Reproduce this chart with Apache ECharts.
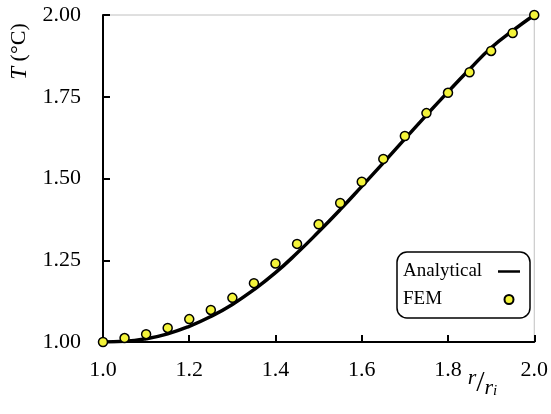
<!DOCTYPE html>
<html>
<head>
<meta charset="utf-8">
<script src="https://cdn.jsdelivr.net/npm/echarts@6/dist/echarts.min.js"></script>
<style>html,body{margin:0;padding:0;background:#fff}#c{width:551px;height:414px}</style>
</head>
<body>
<div id="c"></div>
<script>
// r/ri positions
const rValues = [1.00,1.05,1.10,1.15,1.20,1.25,1.30,1.35,1.40,1.45,1.50,1.55,1.60,1.65,1.70,1.75,1.80,1.85,1.90,1.95,2.00];
// Analytical solution T (°C)
const analyticalT = [1.000,1.002,1.010,1.025,1.048,1.078,1.115,1.160,1.212,1.272,1.337,1.405,1.476,1.548,1.621,1.694,1.765,1.834,1.900,1.952,2.000];
// FEM solution T (°C)
const femT = [1.000,1.012,1.024,1.043,1.070,1.098,1.135,1.180,1.240,1.300,1.360,1.425,1.490,1.560,1.630,1.700,1.762,1.825,1.890,1.945,2.000];
const xTicks = [1.0,1.2,1.4,1.6,1.8,2.0];
const yTicks = [1.00,1.25,1.50,1.75,2.00];

const serif = '"Liberation Serif", "DejaVu Serif", serif';
const chart = echarts.init(document.getElementById('c'));
chart.setOption({
  animation: false,
  backgroundColor: '#fff',
  grid: { left: 92, right: 14, top: 15, bottom: 72, show: true, borderColor: '#c0c0c0', borderWidth: 1 },
  legend: {
    orient: 'vertical', right: 21, top: 252, align: 'right',
    backgroundColor: '#fff', borderColor: '#000', borderWidth: 1.5, borderRadius: 10,
    padding: [10, 10, 9, 6], itemGap: 9, itemWidth: 22, itemHeight: 9,
    formatter: name => '{n|' + name + '}',
    textStyle: { fontFamily: serif, fontSize: 19, color: '#000',
      rich: { n: { fontFamily: serif, fontSize: 19, color: '#000', width: 90, align: 'left' } } },
    data: [
      { name: 'Analytical', icon: 'path://M0,3.5 L22,3.5 L22,6 L0,6 Z' },
      { name: 'FEM', icon: 'circle' }
    ]
  },
  xAxis: {
    type: 'value', min: 1.0, max: 2.0, interval: 0.2,
    name: '{a|r}{s|/}{b|r}{c|i}',
    nameLocation: 'end', nameGap: -78,
    nameTextStyle: {
      align: 'left', verticalAlign: 'top', padding: [25, 0, 0, 0],
      rich: {
        a: { fontFamily: serif, fontStyle: 'italic', fontSize: 22, color: '#000', verticalAlign: 'top', padding: [0,0,10,0] },
        s: { fontFamily: serif, fontSize: 30, color: '#000' },
        b: { fontFamily: serif, fontStyle: 'italic', fontSize: 22, color: '#000', verticalAlign: 'bottom', padding: [10,0,0,0] },
        c: { fontFamily: serif, fontStyle: 'italic', fontSize: 15, color: '#000', verticalAlign: 'bottom', padding: [14,0,0,0] }
      }
    },
    axisLine: { lineStyle: { color: '#000', width: 2 } },
    axisTick: { inside: true, length: 7, lineStyle: { color: '#000', width: 2 } },
    axisLabel: { fontFamily: serif, fontSize: 22, color: '#000', margin: 17,
      formatter: v => v.toFixed(1) },
    splitLine: { show: false }
  },
  yAxis: {
    type: 'value', min: 1.0, max: 2.0, interval: 0.25,
    name: '{t|T}{u| (°C)}',
    nameLocation: 'middle', nameGap: 72, nameRotate: 90,
    nameTextStyle: {
      padding: [0, 0, 0, 254],
      rich: {
        t: { fontFamily: serif, fontStyle: 'italic', fontSize: 23, color: '#000' },
        u: { fontFamily: serif, fontSize: 22, color: '#000' }
      }
    },
    axisLine: { show: true, lineStyle: { color: '#000', width: 2 } },
    axisTick: { show: true, inside: true, length: 7, lineStyle: { color: '#000', width: 2 } },
    axisLabel: { fontFamily: serif, fontSize: 22, color: '#000', margin: 22,
      formatter: v => v.toFixed(2) },
    splitLine: { show: false }
  },
  series: [
    {
      name: 'Analytical', type: 'line', smooth: true, showSymbol: false,
      data: rValues.map((r, i) => [r, analyticalT[i]]),
      lineStyle: { color: '#000', width: 3.5 }, itemStyle: { color: '#000' }, z: 2
    },
    {
      name: 'FEM', type: 'scatter', symbol: 'circle', symbolSize: 9,
      data: rValues.map((r, i) => [r, femT[i]]),
      itemStyle: { color: '#f4f43a', borderColor: '#000', borderWidth: 1.5, opacity: 1 }, z: 3
    }
  ]
});
</script>
</body>
</html>
